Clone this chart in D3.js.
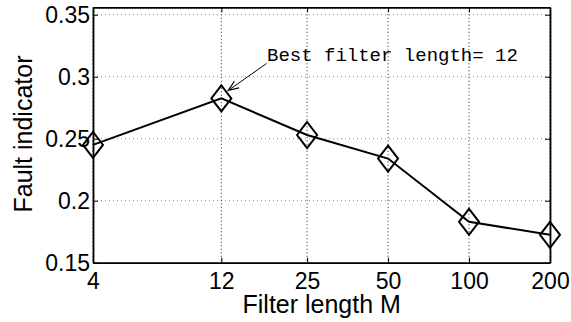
<!DOCTYPE html>
<html>
<head>
<meta charset="utf-8">
<script src="https://cdn.jsdelivr.net/npm/d3@7"></script>
<style>
  html, body { margin: 0; padding: 0; background: #fff; }
  svg { display: block; }
</style>
</head>
<body>
<svg id="chart" width="571" height="322"></svg>
<script>
const filterLengths = [4, 12, 25, 50, 100, 200];
const faultIndicator = [0.245, 0.2825, 0.253, 0.234, 0.183, 0.1725];
const yTicks = [0.15, 0.2, 0.25, 0.3, 0.35];
const yTickLabels = ["0.15", "0.2", "0.25", "0.3", "0.35"];
const xTickLabels = ["4", "12", "25", "50", "100", "200"];
const annotationText = "Best filter length= 12";
const xLabel = "Filter length M";
const yLabel = "Fault indicator";

const svg = d3.select("#chart");
const L = 93, R = 550, T = 7.3, B = 262.7;

const x = d3.scaleLog().domain([4, 200]).range([L, R]);
const y = d3.scaleLinear().domain([0.15, 0.356]).range([B, T]);

// grid
const grid = svg.append("g");
grid.selectAll("line.h").data(yTicks).join("line")
  .attr("x1", L).attr("x2", R)
  .attr("y1", d => y(d)).attr("y2", d => y(d))
  .attr("stroke", "#8a8a8a").attr("stroke-width", 1)
  .attr("stroke-dasharray", "1,3");
grid.selectAll("line.v").data(filterLengths).join("line")
  .attr("x1", d => x(d)).attr("x2", d => x(d))
  .attr("y1", T).attr("y2", B)
  .attr("stroke", "#222").attr("stroke-width", 1)
  .attr("stroke-dasharray", "1,2.5");

// axes
const xAxis = d3.axisBottom(x).tickValues(filterLengths)
  .tickFormat((d, i) => xTickLabels[i]).tickSizeInner(-5).tickSizeOuter(0).tickPadding(10);
const gx = svg.append("g").attr("transform", `translate(0,${B})`).call(xAxis);
const yAxis = d3.axisLeft(y).tickValues(yTicks)
  .tickFormat((d, i) => yTickLabels[i]).tickSizeInner(-5).tickSizeOuter(0).tickPadding(3);
const gy = svg.append("g").attr("transform", `translate(${L},0)`).call(yAxis);
const yAxisR = d3.axisRight(y).tickValues(yTicks).tickFormat("").tickSizeInner(-5).tickSizeOuter(0);
const gyr = svg.append("g").attr("transform", `translate(${R},0)`).call(yAxisR);
const xAxisT = d3.axisTop(x).tickValues(filterLengths).tickFormat("").tickSizeInner(-5).tickSizeOuter(0);
const gxt = svg.append("g").attr("transform", `translate(0,${T})`).call(xAxisT);

[gx, gy, gyr, gxt].forEach(g => {
  g.select(".domain").attr("stroke", "#000").attr("stroke-width", 1.8);
  g.selectAll(".tick line").attr("stroke", "#000").attr("stroke-width", 1);
  g.selectAll("text").attr("font-family", "Liberation Sans, Arial, sans-serif")
    .attr("font-size", 23).attr("fill", "#000");
});
gx.selectAll(".tick text").attr("dy", "0.71em");

// line
const line = d3.line().x((d, i) => x(filterLengths[i])).y(d => y(d));
svg.append("path").datum(faultIndicator)
  .attr("d", line).attr("fill", "none")
  .attr("stroke", "#000").attr("stroke-width", 2);

// diamond markers
const hw = 10, hh = 13;
svg.selectAll("path.marker").data(faultIndicator).join("path")
  .attr("class", "marker")
  .attr("d", (d, i) => {
    const cx = x(filterLengths[i]), cy = y(d);
    return `M${cx},${cy - hh}L${cx + hw},${cy}L${cx},${cy + hh}L${cx - hw},${cy}Z`;
  })
  .attr("fill", "none").attr("stroke", "#000").attr("stroke-width", 2);

// annotation
const tipX = x(12) + 7, tipY = y(faultIndicator[1]) - 8;
const startX = 266.5, startY = 63.5;
svg.append("line")
  .attr("x1", startX).attr("y1", startY).attr("x2", tipX).attr("y2", tipY)
  .attr("stroke", "#000").attr("stroke-width", 1);
const ang = Math.atan2(tipY - startY, tipX - startX);
const ah = 11, aw = 0.38;
const p1 = [tipX - ah * Math.cos(ang - aw), tipY - ah * Math.sin(ang - aw)];
const p2 = [tipX - ah * Math.cos(ang + aw), tipY - ah * Math.sin(ang + aw)];
svg.append("path")
  .attr("d", `M${p1[0]},${p1[1]}L${tipX},${tipY}L${p2[0]},${p2[1]}`)
  .attr("fill", "none").attr("stroke", "#000").attr("stroke-width", 1.2);
svg.append("text")
  .attr("x", 267).attr("y", 61)
  .attr("font-family", "Liberation Mono, Courier New, monospace")
  .attr("font-size", 19).attr("fill", "#000")
  .text(annotationText);

// axis labels
svg.append("text")
  .attr("x", 321.7).attr("y", 313)
  .attr("text-anchor", "middle")
  .attr("font-family", "Liberation Sans, Arial, sans-serif")
  .attr("font-size", 25).attr("fill", "#000")
  .text(xLabel);
svg.append("text")
  .attr("transform", `translate(32,134) rotate(-90)`)
  .attr("text-anchor", "middle")
  .attr("font-family", "Liberation Sans, Arial, sans-serif")
  .attr("font-size", 25).attr("fill", "#000")
  .text(yLabel);
</script>
</body>
</html>
